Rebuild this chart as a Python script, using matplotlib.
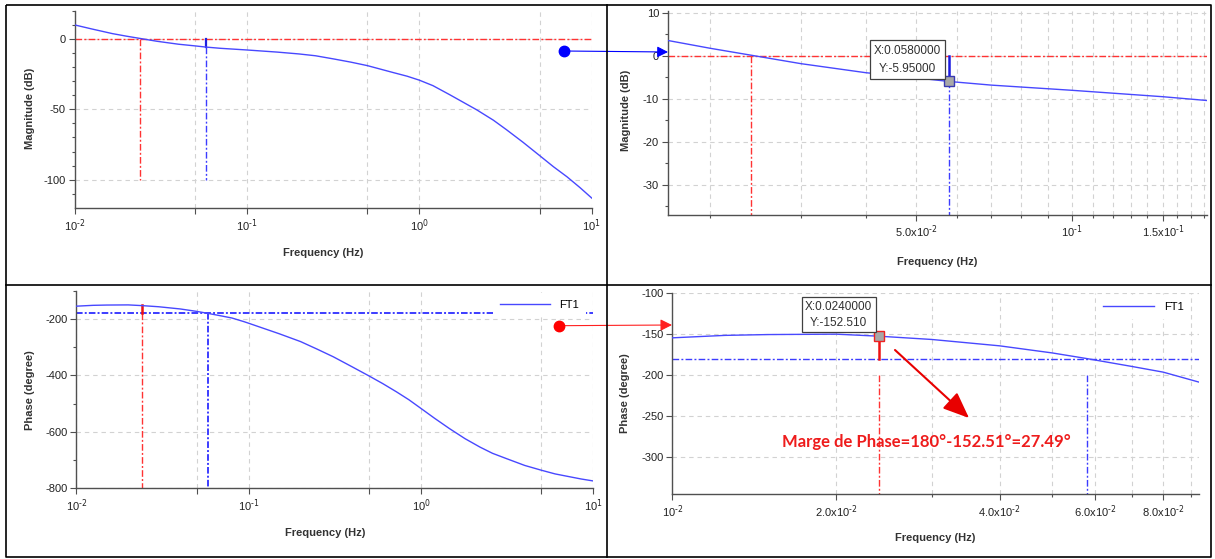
import matplotlib
matplotlib.use('Agg')
import matplotlib.pyplot as plt
from matplotlib.ticker import FixedLocator, FixedFormatter, NullFormatter
from matplotlib.patches import FancyArrowPatch, Rectangle
from matplotlib.lines import Line2D

plt.rcParams['font.family'] = ['Liberation Sans', 'DejaVu Sans']
plt.rcParams['axes.unicode_minus'] = False
plt.rcParams['mathtext.default'] = 'regular'

# ---------------- data ----------------
freq_mag = [0.01, 0.0125, 0.0166, 0.02, 0.0245, 0.03, 0.04, 0.05, 0.058, 0.07,
            0.1, 0.15, 0.2, 0.25, 0.32, 0.4, 0.5, 0.6, 0.7, 0.85, 1.0, 1.2, 1.5,
            2.15, 2.69, 3.2, 4.0, 5.0, 6.0, 7.2, 8.55, 10.0]
mag_db = [9.8, 7.0, 3.6, 1.8, 0.0, -1.8, -3.9, -5.1, -5.95, -6.8,
          -8.0, -9.5, -10.8, -12.1, -14.4, -16.6, -19.1, -21.7, -23.9, -26.6, -29.4, -33.3, -39.7,
          -50.4, -57.8, -64.5, -73.5, -83.0, -90.8, -98.0, -105.6, -113.0]

freq_ph = [0.01, 0.0125, 0.015, 0.02, 0.024, 0.03, 0.04, 0.05, 0.058, 0.07, 0.08, 0.094,
           0.1, 0.15, 0.2, 0.25, 0.31, 0.4, 0.5, 0.6, 0.72, 0.85, 1.0, 1.2, 1.46, 1.8,
           2.2, 2.6, 3.14, 4.0, 5.0, 6.0, 7.0, 8.5, 10.0]
phase_deg = [-154.5, -151.5, -150.5, -150.0, -152.5, -156.5, -164.3, -173.0, -180.0, -189.5, -196.5, -209.5,
             -215.0, -252.0, -280.0, -307.0, -334.0, -370.0, -402.0, -429.0, -458.0, -486.0, -517.0,
             -552.0, -588.0, -624.0, -654.0, -676.0, -695.0, -719.0, -736.0, -749.0, -757.0, -767.0, -774.0]

series_name = 'FT1'
f_gain_cross = 0.024       # 0 dB crossing
f_phase_cross = 0.058      # -180 deg crossing
mag_at_phase_cross = -5.95
phase_at_gain_cross = -152.51
mag_ref = 0.0
phase_ref = -180.0

tip1_lines = ['X:0.0580000', 'Y:-5.95000']
tip2_lines = ['X:0.0240000', 'Y:-152.510']
margin_text = 'Marge de Phase=180°-152.51°=27.49°'

# tick definitions
full_xticks = [0.01, 0.05, 0.1, 0.5, 1, 5, 10]
full_xlabels = [r'$10^{\text{-2}}$', '', r'$10^{\text{-1}}$', '', r'$10^{\text{0}}$', '', r'$10^{\text{1}}$']
tr_xticks = [0.05, 0.1, 0.15]
tr_xlabels = [r'5.0x10$^{\text{-2}}$', r'$10^{\text{-1}}$', r'1.5x10$^{\text{-1}}$']
tr_xminor = [0.02, 0.03, 0.04, 0.06, 0.07, 0.08, 0.09, 0.11, 0.12, 0.13, 0.14, 0.16, 0.17, 0.18]
br_xticks = [0.01, 0.02, 0.04, 0.06, 0.08]
br_xlabels = [r'$10^{\text{-2}}$', r'2.0x10$^{\text{-2}}$', r'4.0x10$^{\text{-2}}$',
              r'6.0x10$^{\text{-2}}$', r'8.0x10$^{\text{-2}}$']
br_xminor = [0.03, 0.05, 0.07, 0.09]
tl_yticks = [-100, -50, 0]
tl_yminor = [-110, -90, -80, -70, -60, -40, -30, -20, -10, 10, 20]
tr_yticks = [-30, -20, -10, 0, 10]
tr_yminor = [-35, -25, -15, -5, 5]
bl_yticks = [-800, -600, -400, -200]
bl_yminor = [-700, -500, -300, -100]
br_yticks = [-300, -250, -200, -150, -100]

# ---------------- styles ----------------
W, H = 1215, 559
CURVE = '#4848ff'
RED = '#ff3333'
BLUE = '#3c3cff'
GRID = '#d2d2d2'
AX = '#505050'
DD = (0, (4.8, 1.6, 1.4, 1.6))
DD_THICK = (0, (3.4, 1.1, 1.0, 1.1))

fig = plt.figure(figsize=(W / 100, H / 100), dpi=100)
fig.patch.set_facecolor('white')


def rect(x0, x1, yt, yb):
    return [x0 / W, 1 - yb / H, (x1 - x0) / W, (yb - yt) / H]


def style(ax, xlim, ylim, xt, xl, xm, yt, ym):
    ax.set_xscale('log')
    ax.set_xlim(*xlim)
    ax.set_ylim(*ylim)
    ax.xaxis.set_major_locator(FixedLocator(xt))
    ax.xaxis.set_major_formatter(FixedFormatter(xl))
    ax.xaxis.set_minor_locator(FixedLocator(xm))
    ax.xaxis.set_minor_formatter(NullFormatter())
    ax.set_yticks(yt, [str(v) for v in yt])
    ax.yaxis.set_minor_locator(FixedLocator(ym))
    for s in ['top', 'right']:
        ax.spines[s].set_visible(False)
    for s in ['left', 'bottom']:
        ax.spines[s].set_color(AX)
        ax.spines[s].set_linewidth(1.0)
    ax.tick_params(which='major', length=4, width=0.8, color=AX, labelsize=8,
                   labelcolor='#222222', pad=2.5)
    ax.tick_params(which='minor', length=2, width=0.8, color=AX)
    ax.set_axisbelow(True)
    ax.xaxis.grid(True, which='both', color=GRID, lw=0.8, ls=(0, (4, 3.5)))
    ax.yaxis.grid(True, which='major', color=GRID, lw=0.8, ls=(0, (4, 3.5)))


def labels(ax, ylabel, xpos, ypos):
    ax.set_xlabel('Frequency (Hz)', fontsize=8, fontweight='bold', color='#333333')
    ax.set_ylabel(ylabel, fontsize=8, fontweight='bold', color='#333333')
    ax.xaxis.set_label_coords(xpos[0] / W, 1 - xpos[1] / H, transform=fig.transFigure)
    ax.xaxis.label.set_va('center')
    ax.yaxis.set_label_coords(ypos[0] / W, 1 - ypos[1] / H, transform=fig.transFigure)
    ax.yaxis.label.set_va('center')


ax_tl = fig.add_axes(rect(74.5, 591.7, 10.5, 207.9))
ax_tr = fig.add_axes(rect(668, 1207, 10.9, 214.7))
ax_bl = fig.add_axes(rect(76.4, 593.3, 290.8, 488.3))
ax_br = fig.add_axes(rect(672.4, 1198.8, 293.3, 494.3))

style(ax_tl, (0.01, 10), (-120, 20), full_xticks, full_xlabels, [], tl_yticks, tl_yminor)
style(ax_tr, (0.0166, 0.1826), (-37, 10.5), tr_xticks, tr_xlabels, tr_xminor, tr_yticks, tr_yminor)
style(ax_bl, (0.01, 10), (-800, -100), full_xticks, full_xlabels, [], bl_yticks, bl_yminor)
style(ax_br, (0.01, 0.093), (-346, -100), br_xticks, br_xlabels, br_xminor, br_yticks, [])

labels(ax_tl, 'Magnitude (dB)', (323, 253), (30, 108))
labels(ax_tr, 'Magnitude (dB)', (937, 261.7), (626.3, 110))
labels(ax_bl, 'Phase (degree)', (325, 533.3), (30, 390))
labels(ax_br, 'Phase (degree)', (935, 538.3), (624.7, 393))

# ---------- top-left: magnitude full ----------
ax_tl.plot(freq_mag, mag_db, color=CURVE, lw=1.0, zorder=3)
ax_tl.axhline(mag_ref, color=RED, lw=1.0, ls=DD, zorder=2)
ax_tl.plot([f_gain_cross, f_gain_cross], [mag_ref, -100], color=RED, lw=1.0, ls=DD)
ax_tl.plot([f_phase_cross, f_phase_cross], [mag_at_phase_cross, -100], color=BLUE, lw=1.0, ls=DD)
ax_tl.plot([f_phase_cross, f_phase_cross], [mag_ref, mag_at_phase_cross], color='#2020e0', lw=1.6)

# ---------- top-right: magnitude zoom ----------
ax_tr.plot(freq_mag, mag_db, color=CURVE, lw=1.0, zorder=3)
ax_tr.axhline(mag_ref, color=RED, lw=1.0, ls=DD, zorder=2)
ax_tr.plot([f_gain_cross, f_gain_cross], [mag_ref, -37], color=RED, lw=1.0, ls=DD)
ax_tr.plot([f_phase_cross, f_phase_cross], [mag_at_phase_cross, -37], color=BLUE, lw=1.0, ls=DD)
ax_tr.plot([f_phase_cross, f_phase_cross], [mag_ref, mag_at_phase_cross], color='#1a1ae0', lw=1.8, zorder=4)
ax_tr.plot([f_phase_cross], [mag_at_phase_cross], marker='s', ms=7, mfc='#a8a8a8',
           mec='#3a3ab0', mew=1.0, zorder=5)

# ---------- bottom-left: phase full ----------
ax_bl.plot(freq_ph, phase_deg, color=CURVE, lw=1.0, zorder=3)
ax_bl.axhline(phase_ref, color=BLUE, lw=1.4, ls=DD_THICK, zorder=2)
ax_bl.plot([f_gain_cross, f_gain_cross], [phase_ref, -800], color=RED, lw=1.0, ls=DD)
ax_bl.plot([f_gain_cross, f_gain_cross], [-150, phase_ref], color='#ee1111', lw=1.8)
ax_bl.plot([f_phase_cross, f_phase_cross], [phase_ref, -800], color=BLUE, lw=1.4, ls=DD_THICK)
ax_bl.legend([Line2D([], [], color=CURVE, lw=1.0)], [series_name], loc='center right',
             bbox_to_anchor=(586 / W, 1 - 305 / H), bbox_transform=fig.transFigure,
             frameon=True, fancybox=False, edgecolor='none', facecolor='white', framealpha=1,
             fontsize=8, handlelength=4.5, handletextpad=0.9, borderpad=0.6, borderaxespad=0)

# ---------- bottom-right: phase zoom ----------
ax_br.plot(freq_ph, phase_deg, color=CURVE, lw=1.0, zorder=3)
ax_br.axhline(phase_ref, color=BLUE, lw=1.0, ls=DD, zorder=2)
ax_br.plot([f_gain_cross, f_gain_cross], [-200, -346], color=RED, lw=1.0, ls=DD)
ax_br.plot([f_phase_cross, f_phase_cross], [-200, -346], color=BLUE, lw=1.0, ls=DD)
ax_br.plot([f_gain_cross, f_gain_cross], [phase_at_gain_cross, phase_ref], color='#ee1111', lw=1.8, zorder=4)
ax_br.plot([f_gain_cross], [phase_at_gain_cross], marker='s', ms=7, mfc='#a8a8a8',
           mec='#ee2222', mew=1.0, zorder=5)
ax_br.legend([Line2D([], [], color=CURVE, lw=1.0)], [series_name], loc='center right',
             bbox_to_anchor=(1190.3 / W, 1 - 307.3 / H), bbox_transform=fig.transFigure,
             frameon=True, fancybox=False, edgecolor='none', facecolor='white', framealpha=1,
             fontsize=8, handlelength=4.6, handletextpad=0.9, borderpad=0.6, borderaxespad=0)

# ---------- overlay: frame, arrows, datatips, text ----------
ov = fig.add_axes([0, 0, 1, 1], zorder=10)
ov.set_xlim(0, W)
ov.set_ylim(H, 0)
ov.axis('off')
ov.patch.set_alpha(0)

ov.plot([6, 1211, 1211, 6, 6], [5, 5, 557, 557, 5], color='black', lw=1.2, solid_capstyle='butt')
ov.plot([607, 607], [5, 557], color='black', lw=1.2)
ov.plot([6, 1211], [285, 285], color='black', lw=1.2)

ov.add_patch(FancyArrowPatch((564, 51), (668, 52), arrowstyle='-|>,head_length=0.65,head_width=0.33',
                             mutation_scale=10, color='#0000ff', lw=0.8, shrinkA=0, shrinkB=0))
ov.plot([564], [51], 'o', ms=7.5, color='#0000ff')
ov.add_patch(FancyArrowPatch((559, 325.7), (672, 325), arrowstyle='-|>,head_length=0.7,head_width=0.35',
                             mutation_scale=10, color='#ff2020', lw=0.8, shrinkA=0, shrinkB=0))
ov.plot([559], [325.7], 'o', ms=7.5, color='#ff0000')
ov.add_patch(FancyArrowPatch((895, 350), (969, 418), arrowstyle='-|>,head_length=0.8,head_width=0.33',
                             mutation_scale=20, color='#e80000', lw=1.5, shrinkA=0, shrinkB=0))

ov.add_patch(Rectangle((870, 40), 75, 39, facecolor='white', edgecolor='#404040', lw=0.9))
ov.text(907, 51.5, tip1_lines[0], ha='center', va='center', fontsize=8.5, color='#303030')
ov.text(907, 69.5, tip1_lines[1], ha='center', va='center', fontsize=8.5, color='#303030')
ov.add_patch(Rectangle((801.5, 296.7), 74, 35.6, facecolor='white', edgecolor='#404040', lw=0.9))
ov.text(838.5, 306.5, tip2_lines[0], ha='center', va='center', fontsize=8.5, color='#303030')
ov.text(838.5, 323.5, tip2_lines[1], ha='center', va='center', fontsize=8.5, color='#303030')

ov.text(926, 441.7, margin_text, ha='center', va='center', color='#ee1c1c',
        fontsize=12, fontweight='bold', family=['Lato', 'DejaVu Sans'])

fig.savefig('out.png', dpi=100)
